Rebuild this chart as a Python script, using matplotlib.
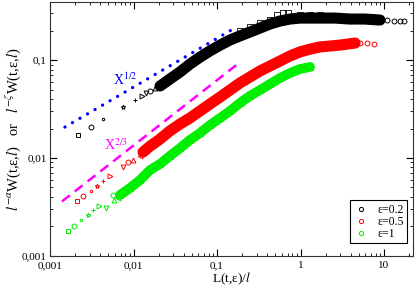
import numpy as np
import matplotlib.pyplot as plt
from matplotlib.lines import Line2D
from matplotlib.ticker import LogLocator, FuncFormatter, NullFormatter

plt.rcParams['font.family'] = ['Liberation Serif', 'DejaVu Serif']
plt.rcParams['mathtext.fontset'] = 'stix'

# eps = 0.2 (black): sparse points at small L, then dense band, then tail
b_sparse_x = [0.00216, 0.0031, 0.00431, 0.00748, 0.0104, 0.0126, 0.0141, 0.0158, 0.0181]
b_sparse_y = [0.0172, 0.0207, 0.025, 0.0331, 0.0391, 0.043, 0.0461, 0.0483, 0.0518]
b_band_x = [0.0208, 0.0273, 0.036, 0.0475, 0.0626, 0.0824, 0.109, 0.143, 0.188, 0.248,
            0.327, 0.431, 0.568, 0.748, 0.986, 1.30, 1.71, 2.59, 3.92, 5.92, 8.96]
b_band_y = [0.0543, 0.064, 0.0755, 0.091, 0.107, 0.124, 0.142, 0.160, 0.176, 0.193,
            0.212, 0.233, 0.250, 0.262, 0.268, 0.268, 0.268, 0.268, 0.262, 0.262, 0.256]
b_upper_x = [0.188, 0.248, 0.327, 0.431, 0.524, 0.617, 0.708, 0.986, 1.30, 1.71]
b_upper_y = [0.200, 0.218, 0.238, 0.258, 0.285, 0.300, 0.305, 0.290, 0.288, 0.285]
b_tail_x = [10.9, 13.2, 15.6, 17.4]
b_tail_y = [0.256, 0.250, 0.250, 0.250]

# eps = 0.5 (red)
r_sparse_x = [0.0021, 0.00248, 0.0031, 0.00365, 0.00431, 0.00524, 0.00748, 0.00859, 0.00986, 0.012]
r_sparse_y = [0.00364, 0.00409, 0.00461, 0.00518, 0.00582, 0.00655, 0.0081, 0.0091, 0.00954, 0.0105]
r_band_x = [0.013, 0.0158, 0.0208, 0.0273, 0.036, 0.0475, 0.0626, 0.0824, 0.109, 0.143,
            0.188, 0.248, 0.327, 0.431, 0.568, 0.748, 0.986, 1.30, 1.71, 2.97, 4.5]
r_band_y = [0.0115, 0.0132, 0.0156, 0.0189, 0.0222, 0.0256, 0.0302, 0.0356, 0.0419, 0.0494,
            0.0582, 0.0671, 0.0773, 0.0869, 0.0977, 0.110, 0.121, 0.129, 0.136, 0.142, 0.149]
r_tail_x = [5.16, 6.25, 7.59]
r_tail_y = [0.149, 0.149, 0.146]

# eps = 1 (green)
g_sparse_x = [0.00164, 0.00194, 0.00235, 0.00285, 0.00327, 0.00386, 0.00469, 0.00568, 0.0058, 0.00652]
g_sparse_y = [0.0018, 0.00202, 0.00233, 0.00262, 0.00295, 0.00324, 0.00309, 0.00419, 0.00373, 0.00391]
g_band_x = [0.00689, 0.00908, 0.012, 0.0158, 0.0208, 0.0273, 0.036, 0.0475, 0.0626, 0.0824,
            0.109, 0.143, 0.188, 0.248, 0.327, 0.431, 0.568, 0.748, 0.986, 1.30]
g_band_y = [0.00419, 0.00494, 0.00597, 0.00755, 0.00869, 0.0105, 0.0126, 0.0153, 0.018, 0.0217,
            0.0256, 0.0302, 0.0364, 0.043, 0.0494, 0.0569, 0.0655, 0.0737, 0.081, 0.0849]

# guide lines X^1/2 and X^2/3
half_x = [0.00151, 0.145]
half_y = [0.0207, 0.2]
twothird_x = [0.00139, 0.19]
twothird_y = [0.0036, 0.0955]

series = [
    ("black", 8.0, b_sparse_x, b_sparse_y, b_band_x, b_band_y, b_tail_x, b_tail_y),
    ("red", 8.0, r_sparse_x, r_sparse_y, r_band_x, r_band_y, r_tail_x, r_tail_y),
    ("#00ee00", 7.0, g_sparse_x, g_sparse_y, g_band_x, g_band_y, [], []),
]
sparse_markers = ["s", "o", ".", "*", "+", ">", "v", "o", "^", "<"]

fig = plt.figure(figsize=(4.15, 2.86), dpi=100)
ax = fig.add_axes([0.1205, 0.105, 0.8745, 0.888])

ax.plot(half_x, half_y, color="blue", ls=(0, (0.01, 2.6)), lw=2.4, dash_capstyle="round")
ax.plot(twothird_x, twothird_y, color="magenta", ls=(0, (4, 2.5)), lw=1.8)

for col, lw, sx, sy, bx, by, tx, ty in series:
    for i in range(len(sx)):
        m = sparse_markers[i % len(sparse_markers)]
        ax.plot(sx[i], sy[i], m, mfc="none", mec=col, mew=0.7, ms=3.5)
    ax.plot(bx, by, color=col, lw=lw, solid_capstyle="round", solid_joinstyle="round")
    ax.plot(bx, by, "s", mfc="none", mec=col, mew=0.6, ms=4.5)
    ax.plot(tx, ty, "o", mfc="none", mec=col, mew=0.7, ms=3.5)

ax.plot(b_upper_x, b_upper_y, "s", mfc="none", mec="black", mew=0.6, ms=4)

ax.text(0.0079, 0.0625, r"X$^{1/2}$", color="blue", fontsize=10, ha="center", va="center")
ax.text(0.0061, 0.0136, r"X$^{2/3}$", color="magenta", fontsize=10, ha="center", va="center")

ax.set_xscale("log")
ax.set_yscale("log")
ax.set_xlim(0.001, 22.2)
ax.set_ylim(0.001, 0.391)

fmt = FuncFormatter(lambda v, p: ("%g" % v).replace(".", ","))
ax.xaxis.set_major_formatter(fmt)
ax.yaxis.set_major_formatter(fmt)
ax.xaxis.set_minor_formatter(NullFormatter())
ax.yaxis.set_minor_formatter(NullFormatter())
ax.xaxis.set_major_locator(LogLocator(base=10, numticks=10))
ax.yaxis.set_major_locator(LogLocator(base=10, numticks=10))
ax.tick_params(which="both", direction="in", top=True, right=True, labelsize=8)
ax.tick_params(axis="x", pad=3.5)
ax.tick_params(axis="y", pad=2.5)
ax.tick_params(which="major", length=5, width=0.8)
ax.tick_params(which="minor", length=2.5, width=0.6)
for s in ax.spines.values():
    s.set_linewidth(0.8)
    s.set_color("#333333")

ax.set_xlabel(r"L(t,ε)/$l$", fontsize=9.5)
ax.xaxis.set_label_coords(0.5, -0.058)
ax.set_ylabel(r"$l^{-\alpha}$W(t,ε,$l$)   or   $l^{-\zeta}$W(t,ε,$l$)", fontsize=10.5)
ax.yaxis.set_label_coords(-0.075, 0.5)

handles = [Line2D([], [], ls="none", marker="o", mfc="none", mec=c, mew=0.7, ms=3)
           for c in ["black", "red", "#00ee00"]]
leg = ax.legend(handles, ["ε=0.2", "ε=0.5", "ε=1"], loc="lower right", fontsize=8.5,
                fancybox=False, edgecolor="black", framealpha=1, handlelength=1.2,
                handletextpad=0.8, borderpad=0.3, labelspacing=0.0, borderaxespad=0,
                bbox_to_anchor=(0.985, 0.05))
leg.get_frame().set_linewidth(0.8)

fig.savefig("out.png", dpi=100)
